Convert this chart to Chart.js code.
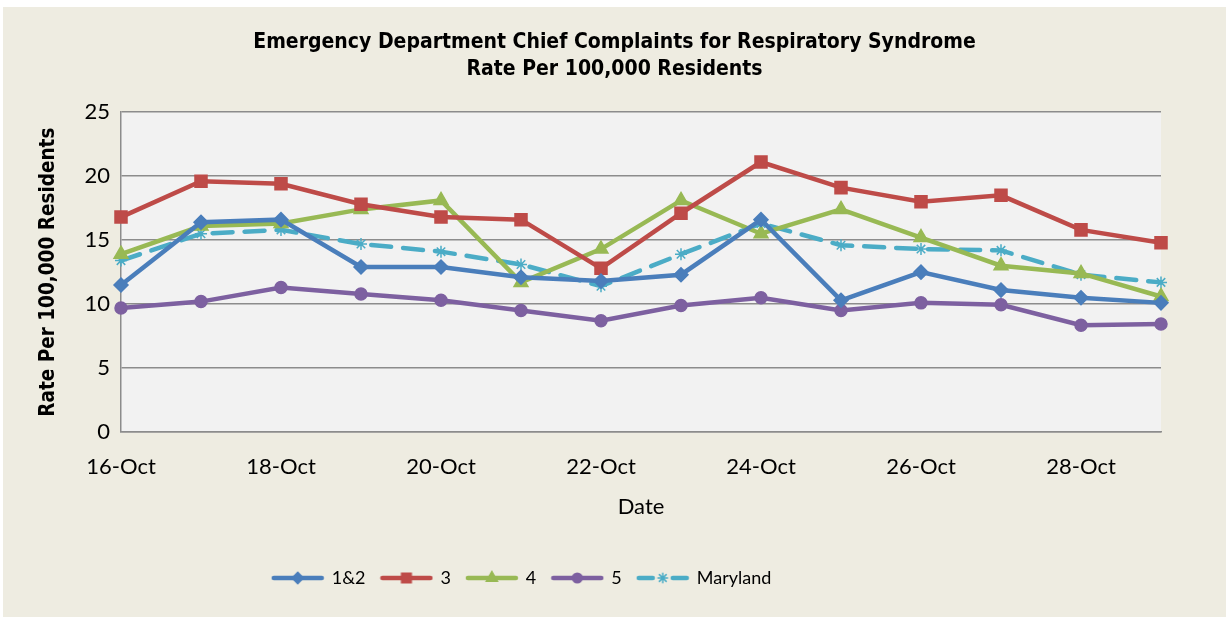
<!DOCTYPE html>
<html>
<head>
<meta charset="utf-8">
<script src="https://cdn.jsdelivr.net/npm/chart.js@4.4.1/dist/chart.umd.min.js"></script>
<style>
  html, body { margin: 0; padding: 0; background: #ffffff; }
  #wrap { position: absolute; left: 3px; top: 7px; width: 1223px; height: 610px; background: #EEECE1; }
</style>
</head>
<body>
<div id="wrap"><canvas id="chart" width="1223" height="610"></canvas></div>
<script>
var dates = ["16-Oct", "17-Oct", "18-Oct", "19-Oct", "20-Oct", "21-Oct", "22-Oct",
             "23-Oct", "24-Oct", "25-Oct", "26-Oct", "27-Oct", "28-Oct", "29-Oct"];
var region12 = [11.5, 16.4, 16.6, 12.9, 12.9, 12.1, 11.8, 12.3, 16.6, 10.3, 12.5, 11.1, 10.5, 10.1];
var region3 = [16.8, 19.6, 19.4, 17.8, 16.8, 16.6, 12.8, 17.1, 21.1, 19.1, 18.0, 18.5, 15.8, 14.8];
var region4 = [13.9, 16.1, 16.3, 17.4, 18.1, 11.7, 14.3, 18.1, 15.5, 17.4, 15.2, 13.0, 12.4, 10.6];
var region5 = [9.7, 10.2, 11.3, 10.8, 10.3, 9.5, 8.7, 9.9, 10.5, 9.5, 10.1, 9.95, 8.35, 8.45];
var maryland = [13.4, 15.5, 15.8, 14.7, 14.1, 13.1, 11.4, 13.9, 16.3, 14.6, 14.3, 14.2, 12.3, 11.7];

var series = [
  { label: "1&2", data: region12, color: "#4A7EBB", style: "rectRot", radius: 7 },
  { label: "3", data: region3, color: "#BE4B48", style: "rect", radius: 8.5 },
  { label: "4", data: region4, color: "#98B954", style: "triangle", radius: 8 },
  { label: "5", data: region5, color: "#7D60A0", style: "circle", radius: 6 },
  { label: "Maryland", data: maryland, color: "#4BACC6", style: "star", radius: 6, dash: [20, 12] }
];

// small picture of line + marker for the legend
function legendImage(s) {
  var c = document.createElement("canvas");
  c.width = 54; c.height = 16;
  var g = c.getContext("2d");
  g.strokeStyle = s.color;
  g.fillStyle = s.color;
  g.lineWidth = 4.5;
  g.lineCap = "round";
  if (s.dash) {
    g.beginPath(); g.moveTo(3, 8); g.lineTo(17, 8); g.stroke();
    g.beginPath(); g.moveTo(37, 8); g.lineTo(51, 8); g.stroke();
  } else {
    g.beginPath(); g.moveTo(3, 8); g.lineTo(51, 8); g.stroke();
  }
  g.lineWidth = 1.5;
  Chart.helpers.drawPoint(g, { pointStyle: s.style, radius: s.radius * 0.8, borderWidth: 1.5 }, 27, 8);
  return c;
}

var datasets = series.map(function (s) {
  return {
    label: s.label,
    data: s.data,
    borderColor: s.color,
    backgroundColor: s.color,
    borderWidth: 4.5,
    borderDash: s.dash || [],
    borderCapStyle: "round",
    tension: 0,
    pointStyle: s.style,
    pointRadius: s.radius,
    pointHoverRadius: s.radius,
    pointBackgroundColor: s.color,
    pointBorderColor: s.color,
    pointBorderWidth: 1.5
  };
});

var plotBg = {
  id: "plotBg",
  beforeDraw: function (chart) {
    var a = chart.chartArea, c = chart.ctx;
    c.save();
    c.fillStyle = "#F2F2F2";
    c.fillRect(a.left, a.top, a.right - a.left, a.bottom - a.top);
    c.restore();
  }
};

// title centred on the whole canvas, legend a bit left of centre as in the original
var placeBlocks = {
  id: "placeBlocks",
  afterLayout: function (chart) {
    var t = chart.titleBlock;
    t.left = 0; t.right = chart.width; t.width = chart.width;
    var lg = chart.legend;
    var w = lg.width, pad = lg.options.labels.padding;
    lg.left = 527 - w / 2 - pad / 2;
    lg.right = lg.left + w;
  }
};

var ctx = document.getElementById("chart").getContext("2d");
var myChart = new Chart(ctx, {
  type: "line",
  data: { labels: dates, datasets: datasets },
  plugins: [plotBg, placeBlocks],
  options: {
    responsive: false,
    animation: false,
    layout: { padding: { left: 20, right: 65, top: 12, bottom: 20 } },
    plugins: {
      title: {
        display: true,
        text: ["Emergency Department Chief Complaints for Respiratory Syndrome", "Rate Per 100,000 Residents"],
        color: "#000",
        font: { family: "'DejaVu Sans Condensed', 'DejaVu Sans'", size: 21, weight: "bold", lineHeight: 1.24 },
        padding: { top: 11, bottom: 30 }
      },
      legend: {
        position: "bottom",
        labels: {
          color: "#000",
          font: { family: "Lato", size: 18 },
          usePointStyle: true,
          pointStyleWidth: 50,
          padding: 16,
          generateLabels: function (chart) {
            var items = Chart.defaults.plugins.legend.labels.generateLabels(chart);
            items.forEach(function (it, i) { it.pointStyle = legendImage(series[i]); });
            return items;
          }
        }
      },
      tooltip: { enabled: false }
    },
    scales: {
      x: {
        grid: { display: false, drawTicks: false },
        border: { display: true, color: "#8C8C8C", width: 1.5 },
        ticks: {
          autoSkip: false,
          maxRotation: 0,
          padding: 22,
          color: "#000",
          font: { family: "Lato", size: 22 },
          callback: function (v, i) { return i % 2 === 0 ? dates[i] : ""; }
        },
        title: {
          display: true,
          text: "Date",
          color: "#000",
          font: { family: "Lato", size: 22 },
          padding: { top: -9, bottom: 33 }
        }
      },
      y: {
        min: 0,
        max: 25,
        grid: { color: "#8C8C8C", lineWidth: 1.5, drawTicks: false },
        border: { display: true, color: "#8C8C8C", width: 1.5 },
        ticks: {
          stepSize: 5,
          padding: 11,
          color: "#000",
          font: { family: "Lato", size: 22 }
        },
        title: {
          display: true,
          text: "Rate Per 100,000 Residents",
          color: "#000",
          font: { family: "'DejaVu Sans Condensed', 'DejaVu Sans'", size: 20.5, weight: "bold" },
          padding: { top: 13, bottom: 0 }
        },
        afterFit: function (scale) { scale.width = 98; }
      }
    }
  }
});
</script>
</body>
</html>
